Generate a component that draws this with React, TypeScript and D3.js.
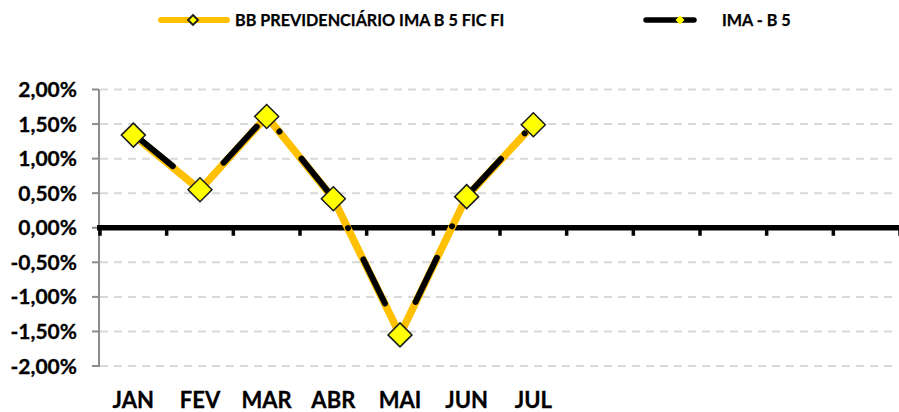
import React from "react";
import * as d3 from "d3";

const categories = ["JAN", "FEV", "MAR", "ABR", "MAI", "JUN", "JUL", "", "", "", "", ""];
const bbValues = [1.34, 0.55, 1.61, 0.42, -1.55, 0.45, 1.49];
const imaValues = [1.36, 0.57, 1.62, 0.43, -1.54, 0.46, 1.5];
const yTicks = [2, 1.5, 1, 0.5, 0, -0.5, -1, -1.5, -2];
const seriesNames = ["BB PREVIDENCIÁRIO IMA B 5 FIC FI", "IMA - B 5"];

const W = 899;
const H = 412;
const FONT = "Lato, 'Open Sans', sans-serif";

export default function App() {
  const x = d3
    .scaleBand<number>()
    .domain(d3.range(categories.length))
    .range([100, 900])
    .padding(0);
  const y = d3.scaleLinear().domain([-2, 2]).range([366, 89.5]);
  const cx = (i: number) => (x(i) as number) + x.bandwidth() / 2;

  const line = d3
    .line<number>()
    .x((_, i) => cx(i))
    .y((d) => y(d));

  const fmt = (v: number) => v.toFixed(2).replace(".", ",") + "%";
  const diamond = (px: number, py: number, r: number) =>
    `M${px},${py - r}L${px + r},${py}L${px},${py + r}L${px - r},${py}Z`;

  const tickXs = d3.range(categories.length + 1).map((i) => 100 + i * x.bandwidth());

  return (
    <>
      <style>{`body{margin:0}`}</style>
      <svg width={W} height={H} style={{ display: "block", background: "#fff" }}>
        {/* gridlines */}
        {yTicks.map((t) => (
          <line
            key={"g" + t}
            x1={100}
            x2={898}
            y1={y(t)}
            y2={y(t)}
            stroke="#D9D9D9"
            strokeWidth={2}
            strokeDasharray="8 6"
          />
        ))}
        {/* y axis */}
        <line x1={99} x2={99} y1={y(2)} y2={y(-2) + 1} stroke="#8C8C8C" strokeWidth={2} />
        {yTicks.map((t) => (
          <line key={"yt" + t} x1={92} x2={99} y1={y(t)} y2={y(t)} stroke="#8C8C8C" strokeWidth={2} />
        ))}
        {yTicks.map((t) => (
          <text
            key={"yl" + t}
            x={77}
            y={y(t)}
            dy="0.36em"
            textAnchor="end"
            fontFamily={FONT}
            fontWeight={700}
            fontSize={21}
            stroke="#000"
            strokeWidth={0.3}
            fill="#000"
          >
            {fmt(t)}
          </text>
        ))}
        {/* zero line */}
        <line x1={97} x2={899} y1={y(0)} y2={y(0)} stroke="#000" strokeWidth={5.5} />
        {tickXs.map((tx, i) => (
          <line key={"xt" + i} x1={tx} x2={tx} y1={y(0)} y2={y(0) + 8} stroke="#000" strokeWidth={3.5} />
        ))}
        {/* x labels */}
        {categories.map((c, i) => (
          <text
            key={"xl" + i}
            x={cx(i)}
            y={408}
            textAnchor="middle"
            fontFamily={FONT}
            fontWeight={700}
            fontSize={22}
            stroke="#000"
            strokeWidth={0.3}
            fill="#000"
          >
            {c}
          </text>
        ))}
        {/* series lines */}
        <path d={line(bbValues) as string} fill="none" stroke="#FFC000" strokeWidth={7.5} strokeLinejoin="round" />
        <path
          d={line(imaValues) as string}
          fill="none"
          stroke="#000"
          strokeWidth={6}
          strokeLinecap="round"
          strokeLinejoin="round"
          strokeDasharray="49 35 0.01 35"
          strokeDashoffset={117}
        />
        {/* markers */}
        {bbValues.map((v, i) => (
          <path key={"m" + i} d={diamond(cx(i), y(v), 12)} fill="#FFFF00" stroke="#1a1a1a" strokeWidth={1.5} />
        ))}
        {imaValues.map((v, i) => (
          <path key={"mi" + i} d={diamond(cx(i), y(v), 4)} fill="#FFFF00" />
        ))}
        {/* legend */}
        <line x1={161} x2={227} y1={20} y2={20} stroke="#FFC000" strokeWidth={6} strokeLinecap="round" />
        <path d={diamond(193, 20, 5)} fill="#FFFF00" stroke="#1a1a1a" strokeWidth={1.8} />
        <text x={235} y={25.5} fontFamily={FONT} fontWeight={700} fontSize={16.2} stroke="#000" strokeWidth={0.25} fill="#000">
          {seriesNames[0]}
        </text>
        <line x1={646} x2={694} y1={20} y2={20} stroke="#000" strokeWidth={5.5} strokeLinecap="round" />
        <path d={diamond(680, 20, 4.5)} fill="#FFFF00" />
        <text x={722} y={25.5} fontFamily={FONT} fontWeight={700} fontSize={16.2} stroke="#000" strokeWidth={0.25} fill="#000">
          {seriesNames[1]}
        </text>
      </svg>
    </>
  );
}
